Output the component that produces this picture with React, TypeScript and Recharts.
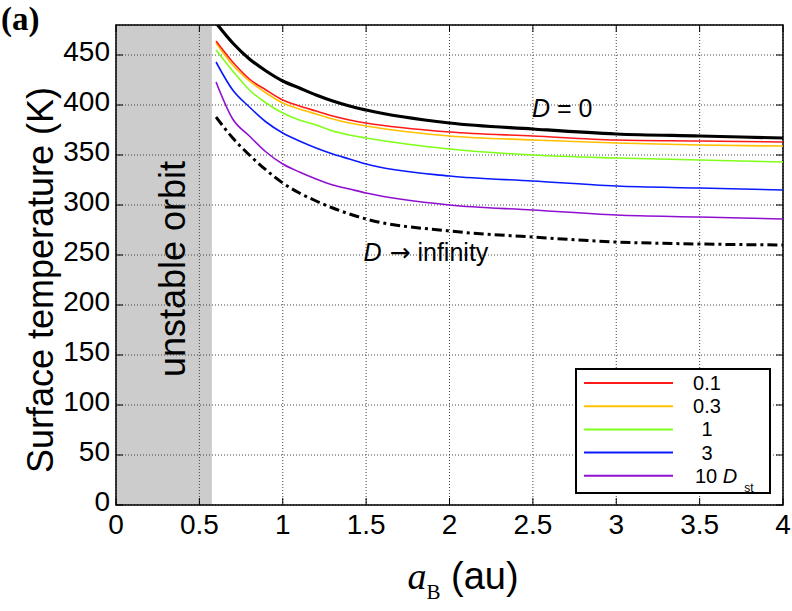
import React from 'react';
import { LineChart, Line, XAxis, YAxis, CartesianGrid, ReferenceArea, ReferenceDot, Legend } from 'recharts';

// binary separation a_B (au)
const aB = [0.6, 0.7, 0.8, 0.9, 1.0, 1.1, 1.2, 1.3, 1.4, 1.5, 2.0, 2.5, 3.0, 3.5, 4.0];

// surface temperature (K) for each value of D
const tempD0 = [482, 462, 446, 434, 424, 417, 410, 404, 399, 395, 382, 376, 371, 369, 367];
const tempD01 = [464, 443, 426, 415, 405, 399, 394, 389, 385, 382, 373, 369, 365, 364, 363];
const tempD03 = [462, 440, 424, 412, 402, 396, 391, 386, 382, 379, 369, 365, 362, 360, 359];
const tempD1 = [455, 434, 415, 402, 392, 385, 380, 374, 370, 367, 356, 350, 347, 345, 343];
const tempD3 = [443, 415, 398, 383, 372, 364, 357, 351, 346, 341, 329, 324, 319, 317, 315];
const tempD10 = [423, 386, 369, 353, 341, 333, 326, 320, 316, 312, 300, 295, 290, 288, 286];
const tempDinf = [388, 367, 350, 335, 322, 312, 304, 297, 291, 286, 274, 268, 263, 261, 260];

const xTicks = [0, 0.5, 1, 1.5, 2, 2.5, 3, 3.5, 4];
const yTicks = [0, 50, 100, 150, 200, 250, 300, 350, 400, 450];

// inner edge of the stable region
const unstableEdge = 0.575;

const legendLabels = ['0.1', '0.3', '1', '3', '10'];
const legendColors = ['#ff1a1a', '#ffc000', '#80ff1a', '#0a1aff', '#9010d0'];

const data = aB.map((a, i) => ({
  a,
  d0: tempD0[i],
  d01: tempD01[i],
  d03: tempD03[i],
  d1: tempD1[i],
  d3: tempD3[i],
  d10: tempD10[i],
  dinf: tempDinf[i],
}));

const SANS = '"Liberation Sans", Arial, Helvetica, sans-serif';
const SERIF = '"Liberation Serif", "Times New Roman", serif';

const PLOT_TOP = 25;
const PLOT_RIGHT = 783;

const XTick = (props: any) => {
  const { x, y, payload } = props;
  return (
    <g>
      <line x1={x} x2={x} y1={y} y2={y - 7} stroke="#000" />
      <line x1={x} x2={x} y1={PLOT_TOP} y2={PLOT_TOP + 7} stroke="#000" />
      <text x={x} y={y + 29} textAnchor="middle" fontSize={28} fontFamily={SANS} fill="#000">
        {String(payload.value)}
      </text>
    </g>
  );
};

const YTick = (props: any) => {
  const { x, y, payload } = props;
  return (
    <g>
      <line x1={x} x2={x + 7} y1={y} y2={y} stroke="#000" />
      <line x1={PLOT_RIGHT} x2={PLOT_RIGHT - 7} y1={y} y2={y} stroke="#000" />
      <text x={x - 6} y={y + 6} textAnchor="end" fontSize={28} fontFamily={SANS} fill="#000">
        {String(payload.value)}
      </text>
    </g>
  );
};

const YLabel = (props: any) => {
  const vb = props.viewBox;
  const cx = vb.x + 53;
  const cy = vb.y + vb.height / 2 + 15;
  return (
    <text x={cx} y={cy} transform={`rotate(-90 ${cx} ${cy})`} textAnchor="middle" fontSize={36} fontFamily={SANS} fill="#000">
      Surface temperature (K)
    </text>
  );
};

const XLabel = (props: any) => {
  const vb = props.viewBox;
  const x0 = vb.x + vb.width / 2 - 42;
  const y0 = vb.y + 84;
  return (
    <text x={x0} y={y0} fontSize={38} fontFamily={SANS} fill="#000">
      <tspan fontFamily={SERIF} fontStyle="italic">a</tspan>
      <tspan fontFamily={SERIF} fontSize={21} dy={10}>B</tspan>
      <tspan dy={-10}> (au)</tspan>
    </text>
  );
};

const UnstableLabel = (props: any) => {
  const vb = props.viewBox;
  const cx = vb.x + 69;
  const cy = vb.y + vb.height / 2 + 4;
  return (
    <text x={cx} y={cy} transform={`rotate(-90 ${cx} ${cy})`} textAnchor="middle" fontSize={36} fontFamily={SANS} fill="#000">
      unstable orbit
    </text>
  );
};

const NoteD0 = (props: any) => {
  const vb = props.viewBox;
  return (
    <text x={vb.x} y={vb.y} fontSize={25} fontFamily={SANS} fill="#000">
      <tspan fontStyle="italic">D</tspan> = 0
    </text>
  );
};

const NoteDinf = (props: any) => {
  const vb = props.viewBox;
  return (
    <text x={vb.x} y={vb.y} fontSize={25} fontFamily={SANS} fill="#000">
      <tspan fontStyle="italic">D</tspan>
      <tspan fontFamily='"DejaVu Sans", sans-serif' dx={8}>{'\u2192'}</tspan>
      <tspan dx={7}>infinity</tspan>
    </text>
  );
};

const LegendBox = () => (
  <svg width={196} height={126} style={{ display: 'block' }}>
    <rect x={1} y={1} width={194} height={124} fill="#fff" stroke="#000" strokeWidth={2} />
    {legendLabels.map((label, i) => {
      const ly = 15 + i * 23.2;
      return (
        <g key={label}>
          <line x1={9} x2={98} y1={ly} y2={ly} stroke={legendColors[i]} strokeWidth={2} />
          {i < legendLabels.length - 1 ? (
            <text x={132} y={ly + 7} textAnchor="middle" fontSize={20} fontFamily={SANS} fill="#000">
              {label}
            </text>
          ) : (
            <text x={120} y={ly + 7} fontSize={20} fontFamily={SANS} fill="#000">
              {label} <tspan fontStyle="italic">D</tspan>
              <tspan fontSize={12} dx={7} dy={9}>st</tspan>
            </text>
          )}
        </g>
      );
    })}
  </svg>
);

export default function App() {
  return (
    <div style={{ position: 'absolute', left: 0, top: 0, width: 792, height: 611, background: '#fff' }}>
      <div
        style={{
          position: 'absolute',
          left: 1,
          top: 1,
          fontFamily: SERIF,
          fontWeight: 'bold',
          fontSize: 33,
          lineHeight: '36px',
          zIndex: 2,
        }}
      >
        (a)
      </div>
      <LineChart width={792} height={611} data={data} margin={{ top: 25, right: 9, left: 0, bottom: 26 }}>
        <ReferenceArea
          x1={0}
          x2={unstableEdge}
          y1={0}
          y2={480}
          fill="#cccccc"
          fillOpacity={1}
          stroke="none"
          zIndex={-150}
          label={<UnstableLabel />}
        />
        <CartesianGrid stroke="#444" strokeDasharray="1 2" />
        <XAxis
          dataKey="a"
          type="number"
          domain={[0, 4]}
          ticks={xTicks}
          interval={0}
          axisLine={false}
          tickLine={false}
          tickSize={0}
          tickMargin={0}
          height={80}
          tick={<XTick />}
          label={<XLabel />}
        />
        <YAxis
          type="number"
          domain={[0, 480]}
          ticks={yTicks}
          interval={0}
          allowDataOverflow
          axisLine={false}
          tickLine={false}
          tickSize={0}
          tickMargin={0}
          width={116}
          tick={<YTick />}
          label={<YLabel />}
        />
        <Line type="monotone" dataKey="dinf" stroke="#000" strokeWidth={3} strokeDasharray="10 4 3 4" dot={false} isAnimationActive={false} />
        <Line type="monotone" dataKey="d10" stroke={legendColors[4]} strokeWidth={1.6} dot={false} isAnimationActive={false} />
        <Line type="monotone" dataKey="d3" stroke={legendColors[3]} strokeWidth={1.6} dot={false} isAnimationActive={false} />
        <Line type="monotone" dataKey="d1" stroke={legendColors[2]} strokeWidth={1.6} dot={false} isAnimationActive={false} />
        <Line type="monotone" dataKey="d03" stroke={legendColors[1]} strokeWidth={1.6} dot={false} isAnimationActive={false} />
        <Line type="monotone" dataKey="d01" stroke={legendColors[0]} strokeWidth={1.6} dot={false} isAnimationActive={false} />
        <Line type="monotone" dataKey="d0" stroke="#000" strokeWidth={3.2} dot={false} isAnimationActive={false} />
        <ReferenceDot x={2.5} y={387} r={1} fill="none" stroke="none" label={<NoteD0 />} />
        <ReferenceDot x={1.49} y={243} r={1} fill="none" stroke="none" label={<NoteDinf />} />
        <ReferenceArea x1={0} x2={4} y1={0} y2={480} fill="none" stroke="#000" strokeWidth={1.5} />
        <Legend
          layout="vertical"
          align="center"
          verticalAlign="middle"
          wrapperStyle={{ left: 575, top: 368, width: 196, height: 126 }}
          content={<LegendBox />}
        />
      </LineChart>
    </div>
  );
}
